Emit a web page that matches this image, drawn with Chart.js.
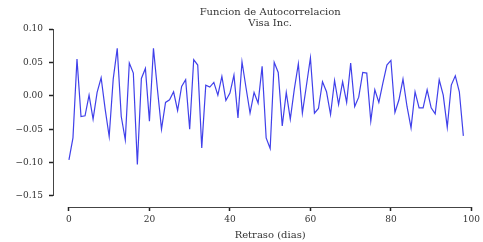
<!DOCTYPE html>
<html>
<head>
<meta charset="utf-8">
<script src="https://cdn.jsdelivr.net/npm/chart.js@4.4.1/dist/chart.umd.min.js"></script>
<style>
  html, body { margin: 0; padding: 0; background: #fff; }
  #wrap { width: 483px; height: 242px; position: relative; }
</style>
</head>
<body>
<div id="wrap"><canvas id="acf" width="483" height="242"></canvas></div>
<script>
// autocorrelation of Visa returns, lags 0..98
const titleLines = ['Funcion de Autocorrelacion', 'Visa Inc.']
const xLabel = 'Retraso (dias)'
const xTicks = [0, 20, 40, 60, 80, 100]
const yTicks = [-0.15, -0.10, -0.05, 0.00, 0.05, 0.10]

const acf = [
  -0.096, -0.063, 0.055, -0.031, -0.030, 0.001, -0.035, 0.005, 0.027, -0.020,
  -0.061, 0.025, 0.071, -0.031, -0.066, 0.049, 0.034, -0.103, 0.026, 0.041,
  -0.038, 0.071, 0.009, -0.050, -0.010, -0.006, 0.006, -0.022, 0.014, 0.024,
  -0.050, 0.054, 0.046, -0.078, 0.016, 0.013, 0.020, 0.001, 0.029, -0.007,
  0.004, 0.031, -0.033, 0.051, 0.012, -0.026, 0.005, -0.011, 0.044, -0.063,
  -0.079, 0.050, 0.035, -0.045, 0.005, -0.035, 0.010, 0.048, -0.026, 0.015,
  0.057, -0.026, -0.019, 0.021, 0.006, -0.028, 0.023, -0.013, 0.021, -0.010,
  0.049, -0.016, -0.002, 0.035, 0.034, -0.038, 0.009, -0.010, 0.019, 0.046,
  0.053, -0.025, -0.006, 0.025, -0.016, -0.048, 0.006, -0.018, -0.018, 0.009,
  -0.018, -0.027, 0.024, 0.001, -0.047, 0.016, 0.030, 0.006, -0.060
]
const lags = acf.map((v, i) => i)

const font = { family: "'DejaVu Serif', serif", size: 9 }
const labelFont = "10px 'DejaVu Serif', serif"
const textColor = '#333'

// seaborn style spines: offset and trimmed to the tick range
const spines = {
  id: 'spines',
  afterDraw(chart) {
    const c = chart.ctx
    const a = chart.chartArea
    const xs = chart.scales.x
    const ys = chart.scales.y
    c.save()
    c.strokeStyle = '#444'
    c.lineWidth = 1
    c.beginPath()
    c.moveTo(a.left + 0.5, ys.getPixelForValue(yTicks[yTicks.length - 1]))
    c.lineTo(a.left + 0.5, ys.getPixelForValue(yTicks[0]))
    c.moveTo(xs.getPixelForValue(xTicks[0]), a.bottom + 0.5)
    c.lineTo(xs.getPixelForValue(xTicks[xTicks.length - 1]), a.bottom + 0.5)
    c.stroke()

    // title and x label centred on the 0..100 span
    const cx = (xs.getPixelForValue(0) + xs.getPixelForValue(100)) / 2
    c.fillStyle = textColor
    c.font = labelFont
    c.textAlign = 'center'
    c.textBaseline = 'middle'
    c.fillText(titleLines[0], cx, 12)
    c.fillText(titleLines[1], cx, 23)
    c.fillText(xLabel, cx, 235)
    c.restore()
  }
}

const ctx = document.getElementById('acf')

const myChart = new Chart(ctx, {
  type: 'line',
  data: {
    datasets: [{
      data: lags.map((l, i) => ({ x: l, y: acf[i] })),
      borderColor: 'rgba(30, 30, 230, 0.85)',
      borderWidth: 1.2,
      pointRadius: 0,
      tension: 0,
      fill: false
    }]
  },
  options: {
    responsive: false,
    animation: false,
    devicePixelRatio: 1,
    layout: { padding: { top: 29, left: 0, right: 0, bottom: 0 } },
    plugins: {
      legend: { display: false },
      title: { display: false },
      tooltip: { enabled: false }
    },
    scales: {
      x: {
        type: 'linear',
        min: -3.96,
        max: 102.48,
        afterBuildTicks: (s) => { s.ticks = xTicks.map(v => ({ value: v })) },
        afterFit: (s) => { s.height = 35 },
        border: { display: false },
        grid: { drawOnChartArea: false, drawTicks: true, tickLength: 4, tickColor: '#222', tickWidth: 1.5 },
        ticks: { font: font, color: textColor, padding: 3, maxRotation: 0, callback: (v) => String(v) }
      },
      y: {
        min: -0.1665,
        max: 0.10,
        afterBuildTicks: (s) => { s.ticks = yTicks.map(v => ({ value: v })) },
        afterFit: (s) => { s.width = 53 },
        border: { display: false },
        grid: { drawOnChartArea: false, drawTicks: true, tickLength: 4, tickColor: '#222', tickWidth: 1.5 },
        ticks: {
          font: font, color: textColor, padding: 6,
          callback: (v) => (v < 0 ? '\u2212' : '') + Math.abs(v).toFixed(2)
        }
      }
    }
  },
  plugins: [spines]
})
</script>
</body>
</html>
